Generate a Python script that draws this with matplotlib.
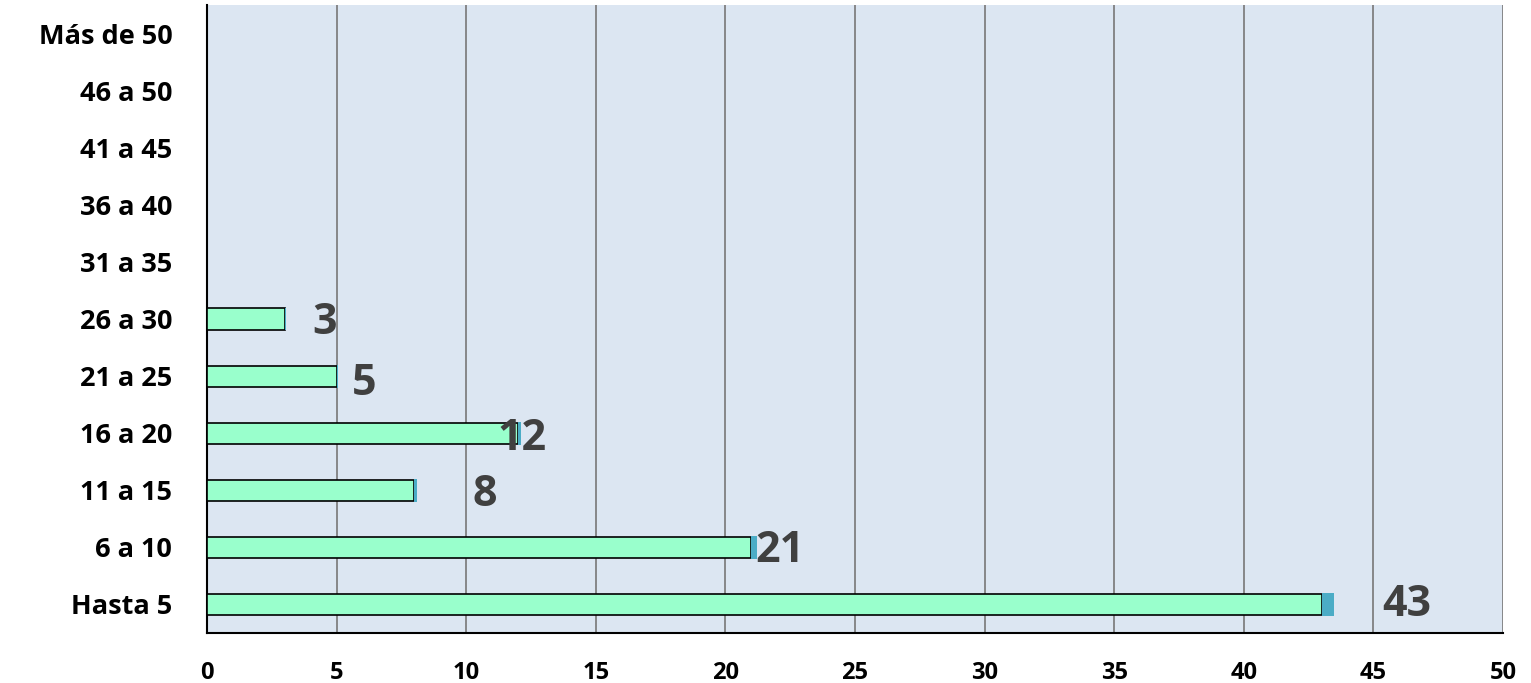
import matplotlib
matplotlib.use("Agg")
import matplotlib.pyplot as plt

plt.rcParams["font.family"] = ["Open Sans", "DejaVu Sans"]

categories = ["Hasta 5", "6 a 10", "11 a 15", "16 a 20", "21 a 25",
              "26 a 30", "31 a 35", "36 a 40", "41 a 45", "46 a 50",
              "Más de 50"]
counts = [43, 21, 8, 12, 5, 3, 0, 0, 0, 0, 0]
shares = [0.47, 0.23, 0.09, 0.13, 0.05, 0.03, 0, 0, 0, 0, 0]
x_ticks = [0, 5, 10, 15, 20, 25, 30, 35, 40, 45, 50]

# where each value label sits (x in data units, y offset in rows, up is +)
label_x = [46.3, 22.1, 10.7, 12.15, 6.05, 4.55]
label_dy = [0.0, -0.05, -0.07, -0.1, -0.13, -0.07]

fig = plt.figure(figsize=(15.31, 6.83), dpi=100)
ax = fig.add_axes([207 / 1531, 50 / 683, 1296 / 1531, 628 / 683])
ax.set_facecolor("#DCE6F2")

y = list(range(len(categories)))
ax.barh(y, counts, height=0.37, color="#99FFCC", edgecolor="black",
        linewidth=1.2, zorder=3)
ax.barh(y, shares, left=counts, height=0.40, color="#4BACC6",
        linewidth=0, zorder=3)

for i, (lx, dy) in enumerate(zip(label_x, label_dy)):
    ax.text(lx, i + dy, str(counts[i]), ha="center", va="center",
            fontsize=31, fontweight="bold", color="#404040", zorder=4)

ax.set_xlim(0, 50)
ax.set_ylim(-0.5, len(categories) - 0.5)
ax.set_xticks(x_ticks)
ax.set_yticks(y)
ax.set_yticklabels(categories)
ax.xaxis.grid(True, color="#808080", linewidth=1.3, zorder=1)
ax.set_axisbelow(True)
ax.tick_params(axis="both", length=0)
ax.tick_params(axis="y", labelsize=19.5, pad=25)
ax.tick_params(axis="x", labelsize=17, pad=20)
for lab in ax.get_xticklabels() + ax.get_yticklabels():
    lab.set_fontweight("bold")

for side in ("top", "right"):
    ax.spines[side].set_visible(False)
ax.spines["left"].set_linewidth(1.5)
ax.spines["bottom"].set_linewidth(1.5)

fig.savefig("out.png", dpi=100)
